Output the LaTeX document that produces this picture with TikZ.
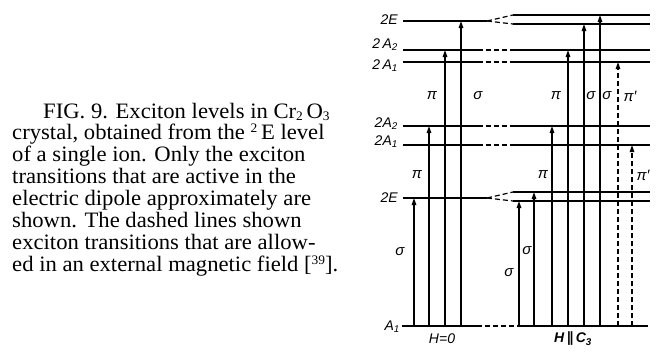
\documentclass[tikz,border=0pt]{standalone}
\usepackage{fontspec}
\setmainfont{Liberation Serif}[FakeStretch=1.03]
\newfontfamily\labfont{Liberation Sans}
\newfontfamily\symfont{DejaVu Sans}
\usetikzlibrary{arrows.meta}
\tikzset{
  lev/.style={line width=2pt},
  levd/.style={line width=1.2pt, dash pattern=on 5pt off 3pt},
  arr/.style={line width=1.3pt, -{Triangle[length=7pt,width=4.5pt]}},
  arrd/.style={line width=1.2pt, dash pattern=on 5pt off 3pt, -{Triangle[length=7pt,width=4.5pt]}},
  lab/.style={font=\labfont\itshape\fontsize{14}{14}\selectfont, inner sep=0pt},
  gl/.style={font=\labfont\itshape\fontsize{15}{15}\selectfont, inner sep=0pt},
  captext/.style={font=\fontsize{22}{22}\selectfont, inner sep=0pt, anchor=base west}
}
\newcommand{\capsub}[1]{\raisebox{-2pt}{\fontsize{13}{13}\selectfont #1}}
\newcommand{\capsup}[1]{\raisebox{7pt}{\fontsize{13}{13}\selectfont #1}}
\begin{document}
\begin{tikzpicture}[x=1pt,y=-1pt]
\useasboundingbox (0,0) rectangle (664,356);
% caption
\node[captext] (c1) at (43,118) {FIG. 9. Exciton levels in Cr\capsub{2}\,O\capsub{3}};
\node[captext] (c2) at (12,139) {crystal, obtained from the \capsup{2}\,E level};
\node[captext] (c3) at (12,161) {of a single ion. Only the exciton};
\node[captext] (c4) at (12,183) {transitions that are active in the};
\node[captext] (c5) at (12,205) {electric dipole approximately are};
\node[captext] (c6) at (12,227) {shown. The dashed lines shown};
\node[captext] (c7) at (12,249) {exciton transitions that are allow-};
\node[captext] (c8) at (12,271) {ed in an external magnetic field [\capsup{39}].};
% level labels
\node[lab, anchor=east] (l1) at (398,20) {2E};
\node[lab, anchor=east] (l2) at (398,45) {2\,A\textsubscript{2}};
\node[lab, anchor=east] (l3) at (398,66) {2\,A\textsubscript{1}};
\node[lab, anchor=east] (l4) at (398,124) {2A\textsubscript{2}};
\node[lab, anchor=east] (l5) at (398,142) {2A\textsubscript{1}};
\node[lab, anchor=east] (l6) at (398,198) {2E};
\node[lab, anchor=east] (l7) at (400,327) {A\textsubscript{1}};
% upper levels
\draw[lev] (403,21) -- (487,21);
\draw[levd] (487,21) -- (513,15);
\draw[levd] (487,21) -- (513,24);
\draw[lev] (513,15) -- (650,15);
\draw[lev] (513,24) -- (650,24);
\draw[lev] (403,50) -- (478,50);
\draw[levd] (478,50) -- (513,50);
\draw[lev] (513,50) -- (650,50);
\draw[lev] (403,62) -- (478,62);
\draw[levd] (478,62) -- (513,62);
\draw[lev] (513,62) -- (650,62);
% lower levels
\draw[lev] (403,126) -- (478,126);
\draw[levd] (478,126) -- (513,126);
\draw[lev] (513,126) -- (650,126);
\draw[lev] (403,145) -- (478,145);
\draw[levd] (478,145) -- (513,145);
\draw[lev] (513,145) -- (650,145);
\draw[lev] (403,198) -- (487,198);
\draw[levd] (487,198) -- (513,192);
\draw[levd] (487,198) -- (513,201);
\draw[lev] (513,192) -- (650,192);
\draw[lev] (513,201) -- (650,201);
% ground
\draw[lev] (402,326) -- (477,326);
\draw[levd] (477,326) -- (517,326);
\draw[lev] (517,326) -- (648,326);
% arrows H=0
\draw[arr] (414,326) -- (414,198);
\draw[arr] (429,326) -- (429,126);
\draw[arr] (445,326) -- (445,50);
\draw[arr] (461,326) -- (461,21);
% arrows H || C3
\draw[arr] (519,326) -- (519,201);
\draw[arr] (534,326) -- (534,192);
\draw[arr] (552,326) -- (552,126);
\draw[arr] (568,326) -- (568,50);
\draw[arr] (584,326) -- (584,24);
\draw[arr] (600,326) -- (600,15);
\draw[arrd] (618,326) -- (618,62);
\draw[arrd] (632,326) -- (632,145);
% transition labels
\node[gl] (g1) at (432,96) {π};
\node[gl] (g2) at (478,96) {σ};
\node[gl] (g3) at (556,96) {π};
\node[gl] (g4) at (591,96) {σ};
\node[gl] (g5) at (607,96) {σ};
\node[gl] (g6) at (630,96) {π′};
\node[gl] (g7) at (417,175) {π};
\node[gl] (g8) at (543,175) {π};
\node[gl] (g9) at (643,175) {π′};
\node[gl] (g10) at (400,252) {σ};
\node[gl] (g11) at (527,251) {σ};
\node[gl] (g12) at (509,273) {σ};
% bottom labels
\node[lab] (h0) at (442,339) {H=0};
\node[lab, font=\labfont\bfseries\itshape\fontsize{14}{14}\selectfont] (h1) at (573,339) {H\,{\symfont\bfseries ∥}\,C\textsubscript{3}};
\end{tikzpicture}
\end{document}
